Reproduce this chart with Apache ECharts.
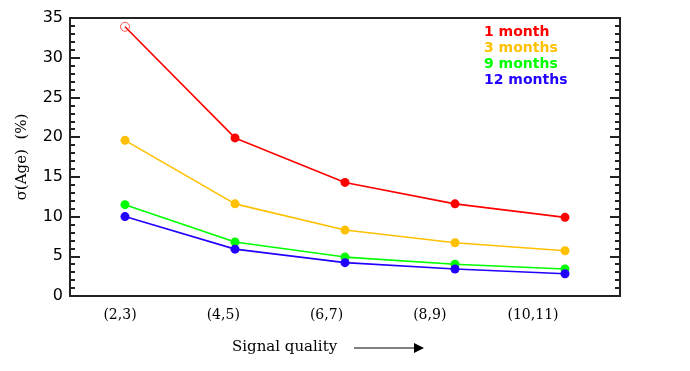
<!DOCTYPE html>
<html>
<head>
<meta charset="utf-8">
<script src="https://cdn.jsdelivr.net/npm/echarts@6/dist/echarts.min.js"></script>
<style>
  html, body { margin: 0; padding: 0; background: #fff; }
  #chart { width: 690px; height: 371px; }
</style>
</head>
<body>
<div id="chart"></div>
<script>
// signal quality bins (x tick labels)
const qualityLabels = ['(2,3)', '(4,5)', '(6,7)', '(8,9)', '(10,11)']

// sigma(Age) in %, one array per observing span
const oneMonth = [33.9, 19.9, 14.3, 11.6, 9.9]
const threeMonths = [19.6, 11.6, 8.3, 6.7, 5.7]
const nineMonths = [11.5, 6.8, 4.9, 4.0, 3.4]
const twelveMonths = [10.0, 5.9, 4.2, 3.4, 2.8]

const seriesNames = ['1 month', '3 months', '9 months', '12 months']
const seriesColors = ['#ff0000', '#ffc000', '#00ff00', '#2200ff']
const allValues = [oneMonth, threeMonths, nineMonths, twelveMonths]

const chart = echarts.init(document.getElementById('chart'))

const serif = 'DejaVu Serif'
const tickStyle = { color: '#222', width: 2 }

// 点位置：1..5，标签单独一条轴（原图标签与点不对齐）
function makeSeries(values, i) {
  return {
    name: seriesNames[i],
    type: 'line',
    xAxisIndex: 0,
    yAxisIndex: 0,
    symbol: 'circle',
    symbolSize: 9,
    lineStyle: { color: seriesColors[i], width: 1.6 },
    itemStyle: { color: seriesColors[i] },
    data: values.map((v, k) => {
      // the first 1-month point is drawn as an open circle
      if (i === 0 && k === 0) {
        return {
          value: [k + 1, v],
          itemStyle: { color: 'rgba(0,0,0,0)', borderColor: '#ff5050', borderWidth: 1 },
        }
      }
      return [k + 1, v]
    }),
  }
}

chart.setOption({
  animation: false,
  grid: {
    left: 70, right: 70, top: 18, bottom: 75,
    show: true, borderColor: '#222', borderWidth: 2,
  },
  legend: {
    orient: 'vertical',
    left: 474,
    top: 20,
    itemWidth: 0,
    itemHeight: 13,
    itemGap: 2,
    selectedMode: false,
    data: seriesNames.map((n, i) => ({
      name: n,
      icon: 'none',
      textStyle: { color: seriesColors[i], fontFamily: 'DejaVu Sans', fontWeight: 'bold', fontSize: 14 },
    })),
  },
  xAxis: [
    {
      type: 'value',
      min: 0.5,
      max: 5.5,
      axisLine: { show: false, onZero: false },
      axisTick: { show: false },
      axisLabel: { show: false },
      splitLine: { show: false },
    },
    {
      // label axis
      type: 'value',
      position: 'bottom',
      min: -50 / 103.25,
      max: 500 / 103.25,
      axisLine: { show: false, onZero: false },
      axisTick: { show: false },
      splitLine: { show: false },
      axisLabel: {
        fontFamily: serif,
        fontSize: 14,
        color: '#000',
        margin: 12,
        customValues: [0, 1, 2, 3, 4],
        formatter: (v) => qualityLabels[Math.round(v)] ?? '',
      },
    },
  ],
  yAxis: [
    {
      type: 'value',
      position: 'left',
      min: 0,
      max: 35,
      interval: 5,
      name: '\u03c3(Age)  (%)',
      nameLocation: 'middle',
      nameGap: 40,
      nameTextStyle: { fontFamily: serif, fontSize: 15, color: '#000' },
      axisLine: { show: false, onZero: false },
      axisTick: { show: true, inside: true, length: 10, lineStyle: tickStyle },
      minorTick: { show: true, splitNumber: 5, length: 5, lineStyle: tickStyle },
      axisLabel: { fontFamily: 'DejaVu Sans', fontSize: 16, color: '#000', margin: 7, padding: [4, 0, 0, 0] },
      splitLine: { show: false },
    },
    {
      type: 'value',
      position: 'right',
      min: 0,
      max: 35,
      interval: 5,
      axisLine: { show: false, onZero: false },
      axisTick: { show: true, inside: true, length: 10, lineStyle: tickStyle },
      minorTick: { show: true, splitNumber: 5, length: 5, lineStyle: tickStyle },
      axisLabel: { show: false },
      splitLine: { show: false },
    },
  ],
  graphic: [
    {
      type: 'text',
      left: 232,
      top: 340,
      style: { text: 'Signal quality', font: '15px "DejaVu Serif"', fill: '#000' },
    },
    {
      type: 'line',
      shape: { x1: 354, y1: 348, x2: 416, y2: 348 },
      style: { stroke: '#000', lineWidth: 1 },
    },
    {
      type: 'polygon',
      shape: { points: [[414, 343], [424, 348], [414, 353]] },
      style: { fill: '#000' },
    },
  ],
  series: allValues.map(makeSeries),
})
</script>
</body>
</html>
